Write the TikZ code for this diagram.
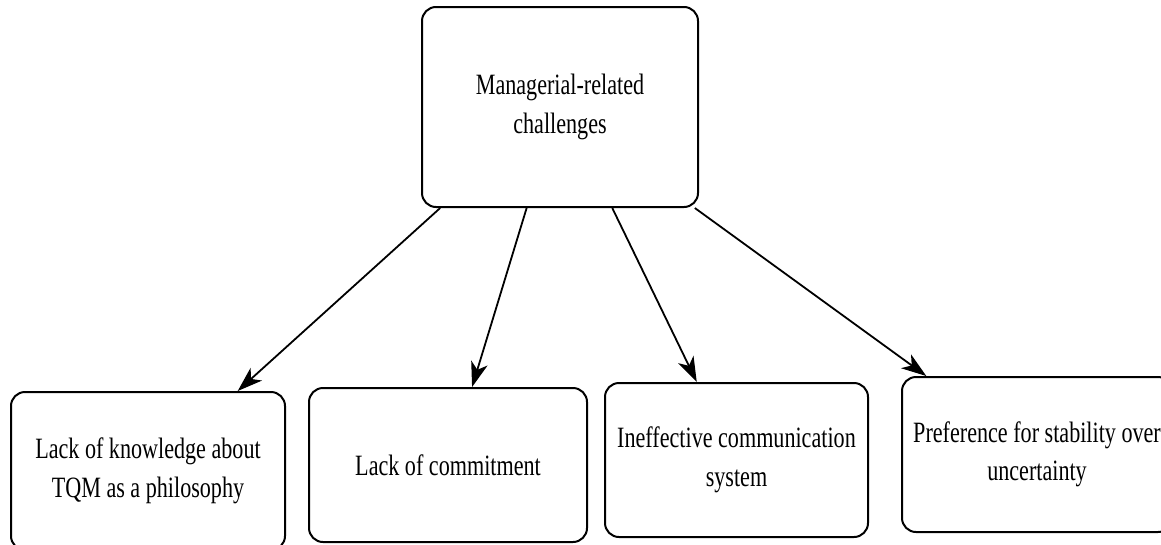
\documentclass[tikz,border=0pt]{standalone}
\usepackage{fontspec}
\setmainfont{Liberation Serif}[FakeStretch=0.75]
\usetikzlibrary{arrows.meta,calc}
\begin{document}
\begin{tikzpicture}[x=1pt,y=-1pt,
  card/.style={draw=black, line width=2pt, rounded corners=14pt, fill=white,
    align=center, inner sep=0pt, font=\fontsize{29.5}{38.5}\selectfont},
  link/.style={draw=black, line width=1.8pt,
    -{Stealth[length=25pt,width=17pt,inset=7pt]}}]
  \useasboundingbox (0,0) rectangle (1161,544);
  \clip (0,0) rectangle (1161,544);
  \fill[white] (0,0) rectangle (1161,544);

  % root box
  \node[card, minimum width=276pt, minimum height=200pt] (top) at (560,107)
    {Managerial-related\\challenges};

  % four challenge boxes
  \node[card, minimum width=274pt, minimum height=158pt] (b1) at (148,471)
    {Lack of knowledge about\\TQM as a philosophy};
  \node[card, minimum width=278pt, minimum height=154pt] (b2) at (448,465)
    {Lack of commitment};
  \node[card, minimum width=263pt, minimum height=154pt] (b3) at (736.5,460)
    {Ineffective communication\\system};
  \node[card, minimum width=270pt, minimum height=155pt] (b4) at (1037,454.5)
    {Preference for stability over\\uncertainty};

  % connectors
  \draw[link] ($(top.south west)!0.069!(top.south east)$) -- ($(b1.north west)!0.825!(b1.north east)$);
  \draw[link] ($(top.south west)!0.38!(top.south east)$) -- ($(b2.north west)!0.586!(b2.north east)$);
  \draw[link] ($(top.south west)!0.688!(top.south east)$) -- ($(b3.north west)!0.35!(b3.north east)$);
  \draw[link] ($(top.south west)!0.985!(top.south east)$) -- ($(b4.north west)!0.093!(b4.north east)$);
\end{tikzpicture}
\end{document}
